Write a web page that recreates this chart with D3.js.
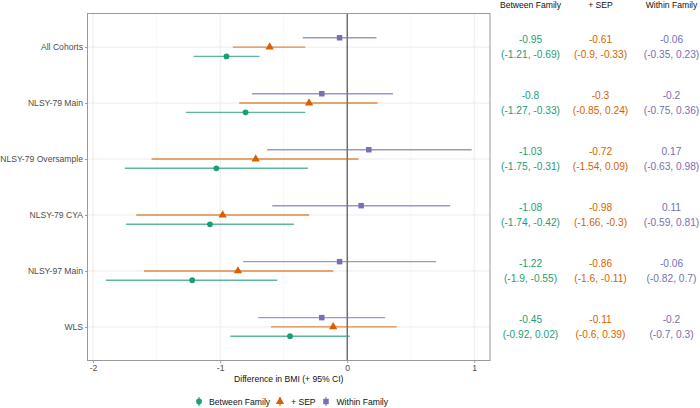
<!DOCTYPE html>
<html>
<head>
<meta charset="utf-8">
<script src="https://cdn.jsdelivr.net/npm/d3@7"></script>
<style>
  body { margin: 0; background: #fff; }
  text { font-family: "Liberation Sans", Arial, sans-serif; }
</style>
</head>
<body>
<svg id="chart" width="700" height="408"></svg>
<script>
// cohorts, top to bottom
let cohorts = ["All Cohorts", "NLSY-79 Main", "NLSY-79 Oversample", "NLSY-79 CYA", "NLSY-97 Main", "WLS"];
let models = ["Between Family", "+ SEP", "Within Family"];

// estimates and 95% CI per model, same order as cohorts
let betweenEst = [-0.95, -0.8, -1.03, -1.08, -1.22, -0.45];
let betweenLo  = [-1.21, -1.27, -1.75, -1.74, -1.9, -0.92];
let betweenHi  = [-0.69, -0.33, -0.31, -0.42, -0.55, 0.02];

let sepEst = [-0.61, -0.3, -0.72, -0.98, -0.86, -0.11];
let sepLo  = [-0.9, -0.85, -1.54, -1.66, -1.6, -0.6];
let sepHi  = [-0.33, 0.24, 0.09, -0.3, -0.11, 0.39];

let withinEst = [-0.06, -0.2, 0.17, 0.11, -0.06, -0.2];
let withinLo  = [-0.35, -0.75, -0.63, -0.59, -0.82, -0.7];
let withinHi  = [0.23, 0.36, 0.98, 0.81, 0.7, 0.3];

let xTicks = [-2, -1, 0, 1];
let xMinor = [-1.5, -0.5, 0.5];

let colors = {"Between Family": "#1b9e77", "+ SEP": "#d95f02", "Within Family": "#7570b3"};
let shapes = {"Between Family": d3.symbolCircle, "+ SEP": d3.symbolTriangle, "Within Family": d3.symbolSquare};
let symSize = {"Between Family": 26, "+ SEP": 30, "Within Family": 30};

// build rows
let rows = [];
let series = [[betweenEst, betweenLo, betweenHi], [sepEst, sepLo, sepHi], [withinEst, withinLo, withinHi]];
models.forEach(function (m, mi) {
  cohorts.forEach(function (c, ci) {
    rows.push({cohort: c, model: m, est: series[mi][0][ci], lo: series[mi][1][ci], hi: series[mi][2][ci]});
  });
});

let panel = {left: 87.5, right: 490, top: 13.5, bottom: 360.5};
let svg = d3.select("#chart");

let allVals = rows.map(d => d.lo).concat(rows.map(d => d.hi));
let ext = d3.extent(allVals);
let pad = (ext[1] - ext[0]) * 0.05;
let x = d3.scaleLinear().domain([ext[0] - pad, ext[1] + pad]).range([panel.left, panel.right]);
let y = d3.scalePoint().domain(cohorts).range([panel.top, panel.bottom]).padding(0.6);
let dodge = d3.scalePoint().domain(["Within Family", "+ SEP", "Between Family"]).range([-9.3, 9.3]);

// grid
let g = svg.append("g");
g.selectAll(".minor").data(xMinor).enter().append("line")
  .attr("x1", d => x(d)).attr("x2", d => x(d))
  .attr("y1", panel.top).attr("y2", panel.bottom)
  .attr("stroke", "#f2f2f2").attr("stroke-width", 0.6);
g.selectAll(".major").data(xTicks).enter().append("line")
  .attr("x1", d => x(d)).attr("x2", d => x(d))
  .attr("y1", panel.top).attr("y2", panel.bottom)
  .attr("stroke", "#ebebeb").attr("stroke-width", 1);
g.selectAll(".hgrid").data(cohorts).enter().append("line")
  .attr("x1", panel.left).attr("x2", panel.right)
  .attr("y1", d => y(d)).attr("y2", d => y(d))
  .attr("stroke", "#ebebeb").attr("stroke-width", 1);

// zero line
g.append("line")
  .attr("x1", x(0)).attr("x2", x(0))
  .attr("y1", panel.top).attr("y2", panel.bottom)
  .attr("stroke", "#333").attr("stroke-width", 1);

// CI lines
svg.selectAll(".ci").data(rows).enter().append("line")
  .attr("x1", d => x(d.lo)).attr("x2", d => x(d.hi))
  .attr("y1", d => y(d.cohort) + dodge(d.model))
  .attr("y2", d => y(d.cohort) + dodge(d.model))
  .attr("stroke", d => colors[d.model])
  .attr("stroke-opacity", 0.72)
  .attr("stroke-width", 1.4);

// points
svg.selectAll(".pt").data(rows).enter().append("path")
  .attr("transform", d => "translate(" + x(d.est) + "," + (y(d.cohort) + dodge(d.model)) + ")")
  .attr("d", d => d3.symbol().type(shapes[d.model]).size(symSize[d.model])())
  .attr("fill", d => colors[d.model]);

// panel border
svg.append("rect")
  .attr("x", panel.left).attr("y", panel.top)
  .attr("width", panel.right - panel.left).attr("height", panel.bottom - panel.top)
  .attr("fill", "none").attr("stroke", "#999").attr("stroke-width", 1);

// axes
let xAxis = svg.append("g")
  .attr("transform", "translate(0," + panel.bottom + ")")
  .call(d3.axisBottom(x).tickValues(xTicks).tickSize(2.5).tickPadding(2).tickFormat(d3.format("d")));
let yAxis = svg.append("g")
  .attr("transform", "translate(" + panel.left + ",0)")
  .call(d3.axisLeft(y).tickSize(2.5).tickPadding(2));
[xAxis, yAxis].forEach(function (a) {
  a.select(".domain").remove();
  a.selectAll(".tick line").attr("stroke", "#999");
  a.selectAll(".tick text").attr("fill", "#4d4d4d").style("font-size", "8.6px");
});
xAxis.selectAll(".tick text").text(d => d < 0 ? "-" + Math.abs(d) : d);

svg.append("text")
  .attr("x", (panel.left + panel.right) / 2).attr("y", 382)
  .attr("text-anchor", "middle").attr("fill", "#111")
  .style("font-size", "8.6px")
  .text("Difference in BMI (+ 95% CI)");

// legend
let legend = [
  {model: "Between Family", kx: 199, tx: 209},
  {model: "+ SEP", kx: 280, tx: 291},
  {model: "Within Family", kx: 326, tx: 336.5}
];
let ly = 401.5;
legend.forEach(function (l) {
  svg.append("line")
    .attr("x1", l.kx).attr("x2", l.kx).attr("y1", ly - 4.5).attr("y2", ly + 4.5)
    .attr("stroke", colors[l.model]).attr("stroke-opacity", 0.72).attr("stroke-width", 1.4);
  svg.append("path")
    .attr("transform", "translate(" + l.kx + "," + ly + ")")
    .attr("d", d3.symbol().type(shapes[l.model]).size(symSize[l.model])())
    .attr("fill", colors[l.model]);
  svg.append("text")
    .attr("x", l.tx).attr("y", ly + 3).attr("fill", "#111")
    .style("font-size", "8.6px").text(l.model);
});

// table of values
let colX = {"Between Family": 530.5, "+ SEP": 600.5, "Within Family": 671.5};
let fmt = v => String(Math.round(v * 100) / 100);
models.forEach(function (m) {
  svg.append("text")
    .attr("x", colX[m]).attr("y", 8)
    .attr("text-anchor", "middle").attr("fill", "#111")
    .style("font-size", "8.6px").text(m);
});
rows.forEach(function (d) {
  let cy = y(d.cohort);
  svg.append("text")
    .attr("x", colX[d.model]).attr("y", cy - 3.7)
    .attr("text-anchor", "middle").attr("fill", colors[d.model])
    .style("font-size", "10.2px").text(fmt(d.est));
  svg.append("text")
    .attr("x", colX[d.model]).attr("y", cy + 10.6)
    .attr("text-anchor", "middle").attr("fill", colors[d.model])
    .style("font-size", "10.2px").text("(" + fmt(d.lo) + ", " + fmt(d.hi) + ")");
});
</script>
</body>
</html>
